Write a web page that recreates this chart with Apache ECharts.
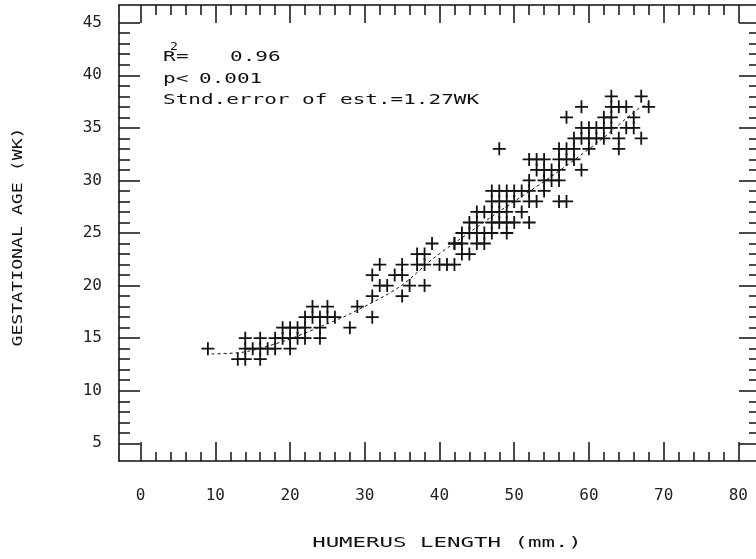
<!DOCTYPE html>
<html>
<head>
<meta charset="utf-8">
<title>Humerus length vs gestational age</title>
<script src="https://cdn.jsdelivr.net/npm/echarts@6/dist/echarts.min.js"></script>
<style>
  html, body { margin: 0; padding: 0; background: #fff; }
  #chart { width: 756px; height: 559px; }
</style>
</head>
<body>
<div id="chart"></div>
<script>
// humerus length (mm) and gestational age (wk), one entry per plotted cross
const humerusMm = [
  9,
  13, 14, 16,
  14, 15, 16, 17, 18, 20,
  14, 16, 18, 19, 20, 21, 22, 24,
  19, 20, 21, 22, 24,
  22, 23, 24, 25, 26,
  23, 25,
  28, 29, 31, 31, 31, 32, 32, 33, 34, 35, 35, 35, 36, 37, 37, 38, 38, 38, 39, 40, 41, 42, 42,
  43, 44,
  42, 43, 45, 46,
  43, 44, 45, 46, 47, 49,
  44, 45, 47, 48, 49, 50, 52,
  45, 46, 47, 48, 49, 51,
  47, 48, 49, 50, 52, 53, 56, 57,
  47, 48, 49, 50, 51, 52, 54,
  52, 54, 55, 56,
  53, 54, 55, 56, 59,
  52, 53, 54, 56, 57, 58,
  48, 56, 57, 58, 60, 64,
  58, 59, 60, 61, 62, 64, 67,
  59, 60, 61, 62, 63, 65, 66,
  57, 62, 63, 66,
  59, 63, 64, 65, 68,
  63, 67
]
const ageWk = [
  14,
  13, 13, 13,
  14, 14, 14, 14, 14, 14,
  15, 15, 15, 15, 15, 15, 15, 15,
  16, 16, 16, 16, 16,
  17, 17, 17, 17, 17,
  18, 18,
  16, 18, 17, 19, 21, 20, 22, 20, 21, 19, 21, 22, 20, 22, 23, 20, 22, 23, 24, 22, 22, 22, 24,
  23, 23,
  24, 24, 24, 24,
  25, 25, 25, 25, 25, 25,
  26, 26, 26, 26, 26, 26, 26,
  27, 27, 27, 27, 27, 27,
  28, 28, 28, 28, 28, 28, 28, 28,
  29, 29, 29, 29, 29, 29, 29,
  30, 30, 30, 30,
  31, 31, 31, 31, 31,
  32, 32, 32, 32, 32, 32,
  33, 33, 33, 33, 33, 33,
  34, 34, 34, 34, 34, 34, 34,
  35, 35, 35, 35, 35, 35, 35,
  36, 36, 36, 36,
  37, 37, 37, 37, 37,
  38, 38
]

// fitted curve
const fitMm = [9.5, 14, 19.5, 24.4, 28, 34.7, 39.2, 44.5, 47.7, 54.8, 61.5, 66.4, 68]
const fitWk = [13.5, 13.7, 14.8, 16.2, 17.3, 19.9, 22.6, 25.3, 26.9, 30.3, 33.8, 36.7, 37.3]

// ticks
const xMajor = [0, 10, 20, 30, 40, 50, 60, 70, 80]
const xMinor = [2, 4, 6, 8, 12, 14, 16, 18, 22, 24, 26, 28, 32, 34, 36, 38, 42, 44, 46, 48,
  52, 54, 56, 58, 62, 64, 66, 68, 72, 74, 76, 78]
const yMajor = [5, 10, 15, 20, 25, 30, 35, 40, 45]
const yMinor = [6, 7, 8, 9, 11, 12, 13, 14, 16, 17, 18, 19, 21, 22, 23, 24, 26, 27, 28, 29,
  31, 32, 33, 34, 36, 37, 38, 39, 41, 42, 43, 44]

const X_MIN = -2.9
const X_MAX = 82.9
const Y_MIN = 3.32
const Y_MAX = 46.68

const FONT = '"DejaVu Sans Mono", monospace'
const INK = '#111'
const PLUS = 'path://M0,5.6H5.6V0H7.4V5.6H13V7.4H7.4V13H5.6V7.4H0Z'

const chart = echarts.init(document.getElementById('chart'))

function tickAxis(position, min, max, ticks, len, opts) {
  opts = opts || {}
  return {
    type: 'value',
    position: position,
    min: min,
    max: max,
    splitLine: { show: false },
    axisLine: {
      show: !!opts.line,
      onZero: false,
      lineStyle: { color: INK, width: 1.6 }
    },
    axisTick: {
      show: true,
      inside: true,
      length: len,
      customValues: ticks,
      lineStyle: { color: INK, width: 1.5 }
    },
    axisLabel: opts.labels
      ? {
          show: true,
          customValues: opts.labels,
          margin: opts.margin,
          color: '#222',
          fontFamily: FONT,
          fontSize: 16
        }
      : { show: false }
  }
}

function label(text, x, y, extra) {
  return Object.assign({
    type: 'text',
    x: x,
    y: y,
    scaleX: 1.5,
    silent: true,
    style: {
      text: text,
      font: '14px ' + FONT,
      fill: INK,
      align: 'left',
      textAlign: 'left',
      verticalAlign: 'middle',
      textVerticalAlign: 'middle'
    }
  }, extra || {})
}

const option = {
  backgroundColor: '#fff',
  animation: false,
  grid: {
    left: 119,
    top: 5,
    width: 641,
    height: 456,
    outerBoundsMode: 'none',
    containLabel: false
  },
  xAxis: [
    tickAxis('bottom', X_MIN, X_MAX, xMajor, 19, { line: true, labels: xMajor, margin: 27 }),
    tickAxis('top', X_MIN, X_MAX, xMajor, 18, { line: true }),
    tickAxis('bottom', X_MIN, X_MAX, xMinor, 9),
    tickAxis('top', X_MIN, X_MAX, xMinor, 10)
  ],
  yAxis: [
    tickAxis('left', Y_MIN, Y_MAX, yMajor, 21, { line: true, labels: yMajor, margin: 17 }),
    tickAxis('right', Y_MIN, Y_MAX, yMajor, 21, { line: true }),
    tickAxis('left', Y_MIN, Y_MAX, yMinor, 11),
    tickAxis('right', Y_MIN, Y_MAX, yMinor, 11)
  ],
  graphic: [
    label('R', 163, 57),
    label('2', 170, 47, { scaleX: 1.2, style: { text: '2', font: '11px ' + FONT, fill: INK, verticalAlign: 'middle', textVerticalAlign: 'middle' } }),
    label('=', 176, 57),
    label('0.96', 230, 57),
    label('p<', 163, 79),
    label('0.001', 199, 79),
    label('Stnd.error of est.=1.27WK', 163, 100),
    label('HUMERUS LENGTH (mm.)', 447, 543, {
      scaleX: 1.6,
      style: { text: 'HUMERUS LENGTH (mm.)', font: '14px ' + FONT, fill: INK, align: 'center', textAlign: 'center', verticalAlign: 'middle', textVerticalAlign: 'middle' }
    }),
    label('GESTATIONAL AGE (WK)', 18, 237, {
      rotation: Math.PI / 2,
      scaleX: 1.3,
      style: { text: 'GESTATIONAL AGE (WK)', font: '14px ' + FONT, fill: INK, align: 'center', textAlign: 'center', verticalAlign: 'middle', textVerticalAlign: 'middle' }
    })
  ],
  series: [
    {
      type: 'line',
      xAxisIndex: 0,
      yAxisIndex: 0,
      data: fitMm.map((x, i) => [x, fitWk[i]]),
      showSymbol: false,
      smooth: 0.3,
      lineStyle: { color: INK, width: 1, type: [3, 3] },
      z: 1
    },
    {
      type: 'scatter',
      xAxisIndex: 0,
      yAxisIndex: 0,
      data: humerusMm.map((x, i) => [x, ageWk[i]]),
      symbol: PLUS,
      symbolSize: 13,
      itemStyle: { color: INK, opacity: 1 },
      z: 2
    }
  ]
}

chart.setOption(option)
</script>
</body>
</html>
